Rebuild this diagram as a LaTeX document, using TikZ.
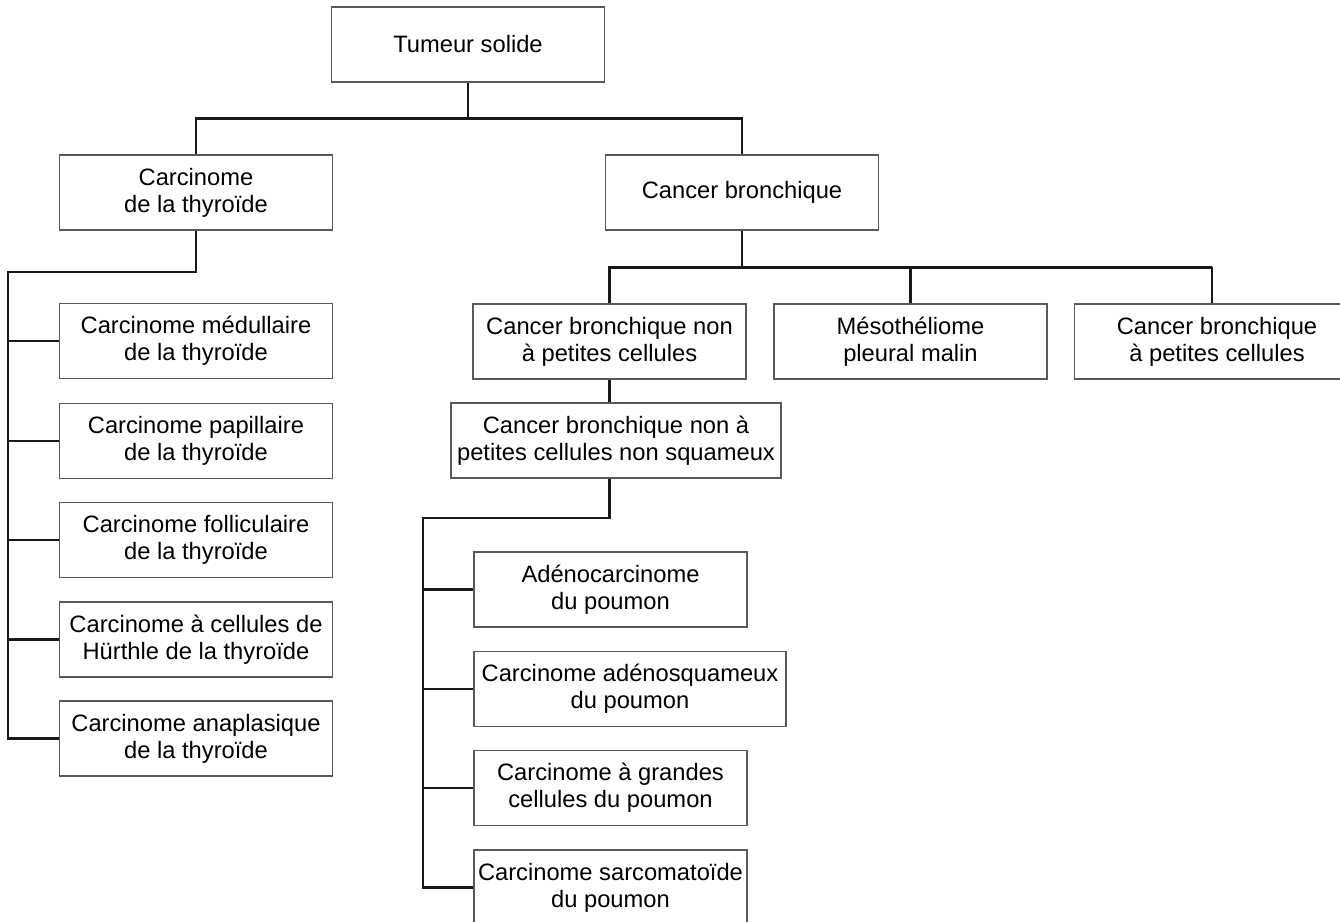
\documentclass[tikz,border=0pt]{standalone}
\usepackage{fontspec}
\setmainfont{Liberation Sans}
\usepackage{xcolor}
\usepackage{tikz}
\usetikzlibrary{positioning,calc}

\begin{document}
\begin{tikzpicture}[x=0.02cm, y=-0.02cm,
    box/.style={draw=black!65, line width=0.7pt, rectangle, align=center,
        minimum width=5.46cm, minimum height=1.5cm, inner sep=2pt,
        font=\fontsize{13.5}{15.5}\selectfont},
    link/.style={draw=black!90, line width=1.3pt}]
    \useasboundingbox (0,0) rectangle (1340,922);

    \node[box] (tumeur) at (468,44.5) {Tumeur solide};
    \node[box] (thyro) at (196,192.5) {Carcinome\\de la thyroïde};
    \node[box] (broncho) at (742,192.5) {Cancer bronchique};

    \node[box] (medul) at (196,341) {Carcinome médullaire\\de la thyroïde};
    \node[box] (papil) at (196,441) {Carcinome papillaire\\de la thyroïde};
    \node[box] (follic) at (196,540) {Carcinome folliculaire\\de la thyroïde};
    \node[box] (hurthle) at (196,639.5) {Carcinome à cellules de\\Hürthle de la thyroïde};
    \node[box] (anapl) at (196,738.5) {Carcinome anaplasique\\de la thyroïde};

    \node[box] (cbnpc) at (609.5,341.5) {Cancer bronchique non\\à petites cellules};
    \node[box] (meso) at (910.5,341.5) {Mésothéliome\\pleural malin};
    \node[box, minimum width=5.7cm] (cbpc) at (1217,341.5) {Cancer bronchique\\à petites cellules};
    \node[box, minimum width=6.6cm] (nonsq) at (616,440.5) {Cancer bronchique non à\\petites cellules non squameux};

    \node[box] (adeno) at (610.5,589.5) {Adénocarcinome\\du poumon};
    \node[box, minimum width=6.24cm] (adsq) at (630,689) {Carcinome adénosquameux\\du poumon};
    \node[box] (grandes) at (610.5,788) {Carcinome à grandes\\cellules du poumon};
    \node[box] (sarco) at (610.5,887.5) {Carcinome sarcomatoïde\\du poumon};

    \draw[link] (tumeur.south) -- ++(0,36) -| (thyro.north);
    \draw[link] (tumeur.south) -- ++(0,36) -| (broncho.north);

    \coordinate (thybus) at (8,272);
    \draw[link] (thyro.south) |- (thybus) |- (anapl.west);
    \foreach \n in {medul,papil,follic,hurthle}
        \draw[link] (\n.west) -- (\n.west -| thybus);

    \coordinate (cbpctop) at (1212,267);
    \draw[link] (broncho.south) -- ++(0,37) -| (cbnpc.north);
    \draw[link] (broncho.south) -- ++(0,37) -| (meso.north);
    \draw[link] (broncho.south) -- ++(0,37) -| (cbpctop) -- (cbpctop |- cbpc.north);
    \draw[link] (cbnpc.south) -- (cbnpc.south |- nonsq.north);

    \coordinate (lungbus) at (423,518);
    \draw[link] (cbnpc.south |- nonsq.south) |- (lungbus) |- (sarco.west);
    \foreach \n in {adeno,adsq,grandes}
        \draw[link] (\n.west) -- (\n.west -| lungbus);
\end{tikzpicture}
\end{document}
